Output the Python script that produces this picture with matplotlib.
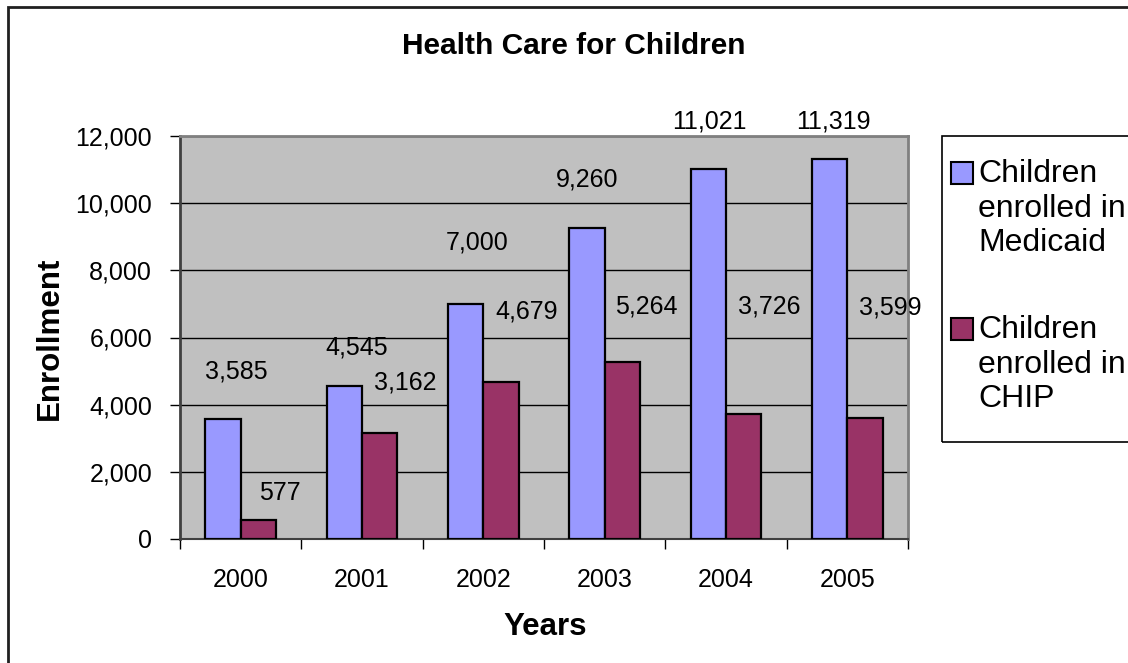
import numpy as np
import matplotlib.pyplot as plt
from matplotlib.patches import Rectangle
from matplotlib.ticker import FuncFormatter, MultipleLocator

plt.rcParams['font.family'] = ['Liberation Sans', 'DejaVu Sans']

years = ['2000', '2001', '2002', '2003', '2004', '2005']
medicaid = [3585, 4545, 7000, 9260, 11021, 11319]
chip = [577, 3162, 4679, 5264, 3726, 3599]

# where Excel put the data labels (category offset, value height)
medicaid_lbl_dx = [-0.04, -0.04, -0.055, -0.145, -0.14, -0.115]
medicaid_lbl_y = [5000, 5690, 8830, 10690, 12430, 12430]
chip_lbl_dx = [0.32, 0.36, 0.36, 0.34, 0.36, 0.355]
chip_lbl_y = [1370, 4650, 6770, 6920, 6925, 6880]

blue = '#9999FF'
maroon = '#993366'

fig = plt.figure(figsize=(11.28, 6.63), dpi=100)
ax = fig.add_axes([180 / 1128, 1 - 539 / 663, 728 / 1128, 403 / 663])
ax.set_facecolor('#C0C0C0')

x = np.arange(len(years))
w = 0.29
ax.bar(x - w / 2, medicaid, w, color=blue, edgecolor='black', linewidth=1.6, zorder=3)
ax.bar(x + w / 2, chip, w, color=maroon, edgecolor='black', linewidth=1.6, zorder=3)

for i in range(len(years)):
    ax.text(x[i] + medicaid_lbl_dx[i], medicaid_lbl_y[i], f'{medicaid[i]:,}',
            ha='center', va='center', fontsize=18, clip_on=False)
    ax.text(x[i] + chip_lbl_dx[i], chip_lbl_y[i], f'{chip[i]:,}',
            ha='center', va='center', fontsize=18, clip_on=False)

ax.set_xlim(-0.5, len(years) - 0.5)
ax.set_ylim(0, 12000)
ax.yaxis.set_major_locator(MultipleLocator(2000))
ax.yaxis.set_major_formatter(FuncFormatter(lambda v, p: f'{int(v):,}'))
ax.grid(axis='y', color='black', linewidth=1, zorder=1)

ax.set_xticks(x)
ax.set_xticklabels(years)
ax.set_xticks(np.arange(-0.5, len(years)), minor=True)
ax.tick_params(axis='x', which='major', length=0, pad=21, labelsize=18)
ax.tick_params(axis='x', which='minor', length=7, width=1, color='black')
ax.tick_params(axis='y', length=7, width=1, pad=13, labelsize=18)

for s in ['top', 'right']:
    ax.spines[s].set_color('#808080')
    ax.spines[s].set_linewidth(2)
ax.spines['left'].set_color('#404040')
ax.spines['left'].set_linewidth(2)
ax.spines['bottom'].set_color('#404040')
ax.spines['bottom'].set_linewidth(1.5)

fig.text(574 / 1128, 1 - 46 / 663, 'Health Care for Children', ha='center',
         va='center', fontsize=21.5, fontweight='bold')
fig.text(545 / 1128, 1 - 627 / 663, 'Years', ha='center', va='center',
         fontsize=22.5, fontweight='bold')
fig.text(50 / 1128, 1 - 338 / 663, 'Enrollment', ha='center', va='center',
         fontsize=22.5, fontweight='bold', rotation=90)

# chart border
fig.patches.append(Rectangle((8 / 1128, -0.1), 1.2, 1 - 7 / 663 + 0.1,
                             transform=fig.transFigure, fill=False,
                             edgecolor='#202020', linewidth=2))

# legend box
fig.patches.append(Rectangle((942 / 1128, 1 - 442 / 663), 0.3, 306 / 663,
                             transform=fig.transFigure, fill=False,
                             edgecolor='black', linewidth=1.2))
labels = ['Children\nenrolled in\nMedicaid', 'Children\nenrolled in\nCHIP']
for j, (lab, col) in enumerate(zip(labels, [blue, maroon])):
    top = 173 + j * 156
    fig.patches.append(Rectangle((951 / 1128, 1 - (top + 11) / 663), 22 / 1128, 22 / 663,
                                 transform=fig.transFigure, facecolor=col,
                                 edgecolor='black', linewidth=1.5))
    fig.text(978 / 1128, 1 - (top - 14) / 663, lab, ha='left', va='top',
             fontsize=23, linespacing=1.2)

fig.savefig('out.png', dpi=100)
